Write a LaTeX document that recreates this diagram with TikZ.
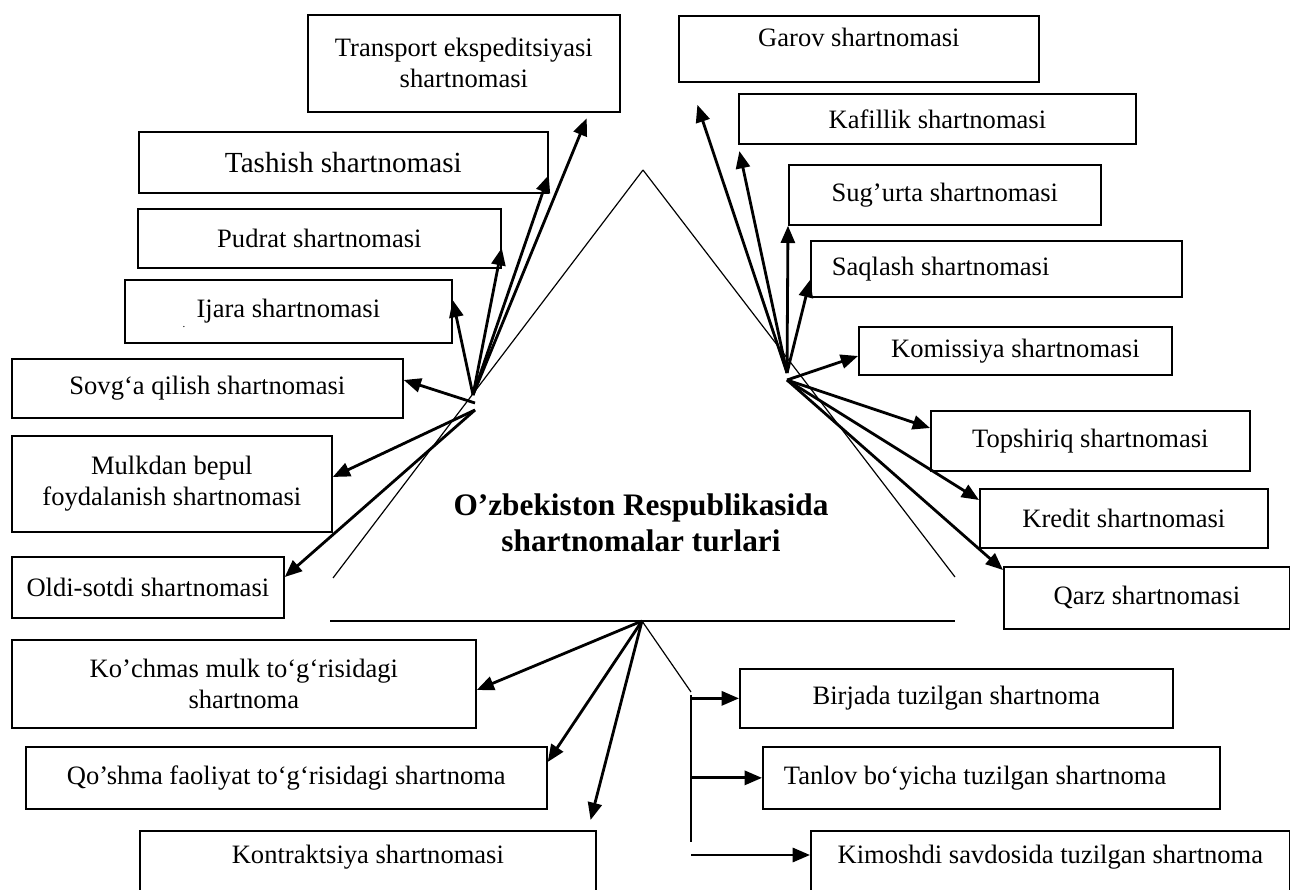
\documentclass[tikz,border=0pt]{standalone}
\usepackage{fontspec}
\setmainfont{Liberation Serif}
\usetikzlibrary{arrows.meta, calc}

\begin{document}
\begin{tikzpicture}[x=0.4632pt, y=-0.4632pt,
  box/.style={draw, line width=0.8pt, anchor=north west, align=center, inner sep=0pt, font=\fontsize{12.3}{14.4}\selectfont},
  upper/.style={text height=8.5pt, text depth=10.4pt},
  lefttext/.style={align=flush left, inner xsep=9.7pt},
  arr/.style={line width=1.3pt, -{Triangle[length=8pt,width=6.5pt]}},
  edgeline/.style={line width=0.55pt}]
\useasboundingbox (0,0) rectangle (1290,890);

% Triangle in the middle
\coordinate (apex) at (643,170);
\draw[edgeline] (apex) -- (333,578);
\draw[edgeline] (apex) -- (955,577);
\draw[line width=0.8pt] (330,621) -- (955,621);
\node[font=\fontsize{14.5}{16.7}\selectfont\bfseries, align=center] (title) at (641,523) {O’zbekiston Respublikasida\\shartnomalar turlari};

% Left boxes
\node[box, minimum width=312*0.4632pt, minimum height=97*0.4632pt] (transport) at (307,14) {Transport ekspeditsiyasi\\shartnomasi};
\node[box, minimum width=409*0.4632pt, minimum height=61*0.4632pt, font=\fontsize{13.5}{16}\selectfont] (tashish) at (138,131) {Tashish shartnomasi};
\node[box, minimum width=363*0.4632pt, minimum height=59*0.4632pt] (pudrat) at (137,208) {Pudrat shartnomasi};
\node[box, minimum width=327*0.4632pt, minimum height=63*0.4632pt] (ijara) at (124,279) {Ijara shartnomasi};
\node[font=\tiny, inner sep=0pt] (ijaramark) at (184,327) {.};
\node[box, minimum width=391*0.4632pt, minimum height=59*0.4632pt] (sovga) at (11,358) {Sovg‘a qilish shartnomasi};
\node[box, minimum width=320*0.4632pt, minimum height=96*0.4632pt] (mulkdan) at (11,435) {Mulkdan bepul\\foydalanish shartnomasi};
\node[box, minimum width=272*0.4632pt, minimum height=61*0.4632pt] (oldi) at (11,556) {Oldi-sotdi shartnomasi};

% Right boxes
\node[box, upper, minimum width=360*0.4632pt, minimum height=66*0.4632pt] (garov) at (678,15) {Garov shartnomasi};
\node[box, minimum width=397*0.4632pt, minimum height=50*0.4632pt] (kafillik) at (738,93) {Kafillik shartnomasi};
\node[box, minimum width=312*0.4632pt, minimum height=60*0.4632pt] (sugurta) at (788,164) {Sug’urta shartnomasi};
\node[box, lefttext, text width=152.4pt, minimum width=371*0.4632pt, minimum height=56*0.4632pt] (saqlash) at (810,240) {Saqlash shartnomasi};
\node[box, minimum width=313*0.4632pt, minimum height=48*0.4632pt] (komissiya) at (858,326) {Komissiya shartnomasi};
\node[box, minimum width=319*0.4632pt, minimum height=60*0.4632pt] (topshiriq) at (930,410) {Topshiriq shartnomasi};
\node[box, minimum width=288*0.4632pt, minimum height=59*0.4632pt] (kredit) at (979,488) {Kredit shartnomasi};
\node[box, minimum width=286*0.4632pt, minimum height=62*0.4632pt] (qarz) at (1003,566) {Qarz shartnomasi};

% Bottom boxes
\node[box, minimum width=464*0.4632pt, minimum height=88*0.4632pt] (kochmas) at (11,639) {Ko’chmas mulk to‘g‘risidagi\\shartnoma};
\node[box, minimum width=521*0.4632pt, minimum height=62*0.4632pt] (qoshma) at (25,746) {Qo’shma faoliyat to‘g‘risidagi shartnoma};
\node[box, upper, minimum width=456*0.4632pt, minimum height=70*0.4632pt] (kontrakt) at (139,830) {Kontraktsiya shartnomasi};
\node[box, minimum width=433*0.4632pt, minimum height=59*0.4632pt] (birjada) at (739,668) {Birjada tuzilgan shartnoma};
\node[box, lefttext, text width=192.2pt, minimum width=457*0.4632pt, minimum height=62*0.4632pt] (tanlov) at (762,746) {Tanlov bo‘yicha tuzilgan shartnoma};
\node[box, upper, minimum width=479*0.4632pt, minimum height=70*0.4632pt] (kimoshdi) at (810,830) {Kimoshdi savdosida tuzilgan shartnoma};

% Hubs
\coordinate (hubL) at (473,395);
\coordinate (hubLs) at (475,403);
\coordinate (hubLd) at (475,410);
\coordinate (hubR) at (787,373);
\coordinate (hubRd) at (787,380);
\coordinate (hubB) at (642,621);
\coordinate (brk) at (691,692);
\coordinate (brkT) at (691,695);
\coordinate (brkB) at (691,842);

% Arrows to the left
\draw[arr, shorten >=2.8pt] (hubL) -- (transport.south -| 589,0);
\foreach \t/\y in {tashish/175, pudrat/248, ijara/300}
  \draw[arr] (hubL) -- (\t.east |- 0,\y);
\draw[arr] (hubLs) -- (sovga.east |- 0,380);
\draw[arr] (hubLd) -- (mulkdan.east |- 0,477);
\draw[arr] (hubLd) -- (oldi.east |- 0,577);

% Arrows to the right
\draw[arr, shorten >=10.8pt] (hubR) -- (garov.south -| 690,0);
\draw[arr, shorten >=3pt] (hubR) -- (kafillik.south west);
\draw[arr] (hubR) -- (sugurta.south west);
\draw[arr] (hubR) -- (saqlash.west |- 0,280);
\foreach \t/\y in {komissiya/356, topshiriq/428, kredit/500, qarz/570}
  \draw[arr] (hubRd) -- (\t.west |- 0,\y);

% Arrows downwards
\draw[arr] (hubB) -- (kochmas.east |- 0,690);
\draw[arr] (hubB) -- (qoshma.east |- 0,762);
\draw[arr, shorten >=4.8pt] (hubB) -- (kontrakt.north -| 588,0);
\draw[edgeline] (hubB) -- (brk);
\draw[line width=1.3pt] (brkT) -- (brkB);
\draw[arr] (birjada.west -| brk) -- (birjada.west);
\draw[arr] (tanlov.west -| brk) -- (tanlov.west);
\draw[arr] (brk |- 0,855) -- (kimoshdi.west |- 0,855);
\end{tikzpicture}
\end{document}
